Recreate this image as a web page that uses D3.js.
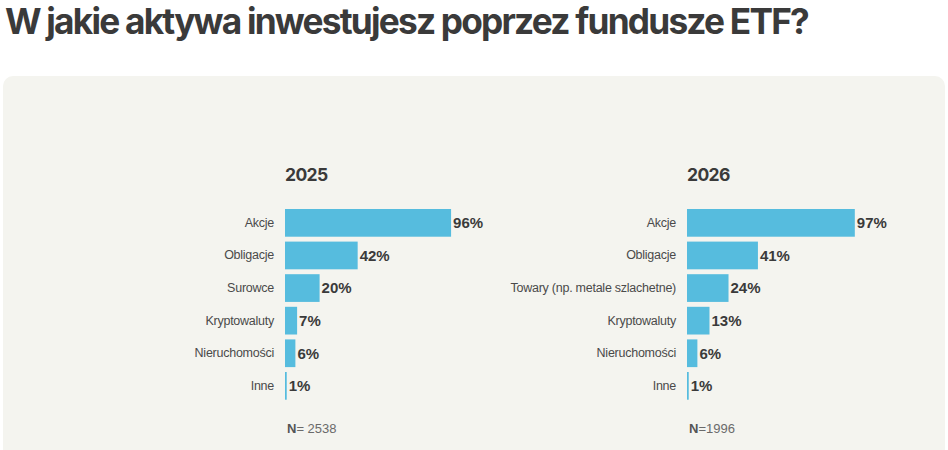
<!DOCTYPE html>
<html>
<head>
<meta charset="utf-8">
<script src="https://cdn.jsdelivr.net/npm/d3@7"></script>
<style>
  body { margin: 0; background: #fff; }
  svg { display: block; }
</style>
</head>
<body>
<svg id="chart"></svg>
<script>
const title = "W jakie aktywa inwestujesz poprzez fundusze ETF?";

const years = ["2025", "2026"];
const sampleSizes = ["2538", "1996"];

const categories2025 = ["Akcje", "Obligacje", "Surowce", "Kryptowaluty", "Nieruchomości", "Inne"];
const values2025 = [96, 42, 20, 7, 6, 1];

const categories2026 = ["Akcje", "Obligacje", "Towary (np. metale szlachetne)", "Kryptowaluty", "Nieruchomości", "Inne"];
const values2026 = [97, 41, 24, 13, 6, 1];

const width = 948, height = 450;
const barColor = "#56bcde";
const textColor = "#3a3a3a";
const sans = "'Liberation Sans', Arial, sans-serif";

const svg = d3.select("#chart")
    .attr("width", width)
    .attr("height", height)
    .style("font-family", "Inter, 'Liberation Sans', sans-serif");

// panel background
svg.append("rect")
    .attr("x", 3)
    .attr("y", 76)
    .attr("width", 942)
    .attr("height", 400)
    .attr("rx", 10)
    .attr("fill", "#f4f4ef");

svg.append("text")
    .attr("x", 5)
    .attr("y", 34)
    .attr("fill", textColor)
    .attr("font-size", 35.5)
    .attr("font-weight", 700)
    .attr("letter-spacing", "-1.8px")
    .attr("textLength", 803)
    .attr("lengthAdjust", "spacingAndGlyphs")
    .text(title);

const x = d3.scaleLinear().domain([0, 100]).range([0, 173]);

const panels = [
    { year: years[0], n: sampleSizes[0], cats: categories2025, vals: values2025, left: 285 },
    { year: years[1], n: sampleSizes[1], cats: categories2026, vals: values2026, left: 687 }
];

const step = 32.6, pad = 0.15;

panels.forEach(p => {
    const g = svg.append("g").attr("transform", "translate(" + p.left + ",0)");

    const y = d3.scaleBand()
        .domain(p.cats)
        .range([209, 209 + step * (p.cats.length - pad)])
        .paddingInner(pad)
        .paddingOuter(0);

    g.append("text")
        .attr("x", 0)
        .attr("y", 181)
        .attr("fill", textColor)
        .attr("font-size", 17.5)
        .attr("font-weight", 700)
        .attr("letter-spacing", "-0.6px")
        .text(p.year);

    const rows = p.cats.map((c, i) => ({ cat: c, val: p.vals[i] }));

    g.selectAll(".bar")
        .data(rows)
        .enter().append("rect")
        .attr("class", "bar")
        .attr("x", 0)
        .attr("y", d => y(d.cat))
        .attr("width", d => x(d.val))
        .attr("height", y.bandwidth())
        .attr("fill", barColor);

    g.selectAll(".val")
        .data(rows)
        .enter().append("text")
        .attr("class", "val")
        .attr("x", d => x(d.val) + 2)
        .attr("y", d => y(d.cat) + y.bandwidth() / 2)
        .attr("dy", "0.36em")
        .attr("fill", textColor)
        .attr("font-family", sans)
        .attr("font-size", 15)
        .attr("font-weight", 700)
        .text(d => d.val + "%");

    // category labels via axis
    const axis = g.append("g")
        .attr("transform", "translate(-11,0)")
        .call(d3.axisLeft(y).tickSize(0).tickPadding(0));
    axis.select(".domain").remove();
    axis.selectAll("text")
        .attr("fill", "#4a4a4a")
        .attr("font-size", 12.5)
        .attr("letter-spacing", "-0.25px")
        .attr("font-family", sans);

    const nText = g.append("text")
        .attr("x", 2)
        .attr("y", 433)
        .attr("font-family", sans)
        .attr("font-size", 13)
        .attr("fill", "#6a6a6a");
    nText.append("tspan").attr("font-weight", 700).attr("fill", "#555").text("N");
    nText.append("tspan").text(p.year === "2025" ? "= " + p.n : "=" + p.n);
});
</script>
</body>
</html>
